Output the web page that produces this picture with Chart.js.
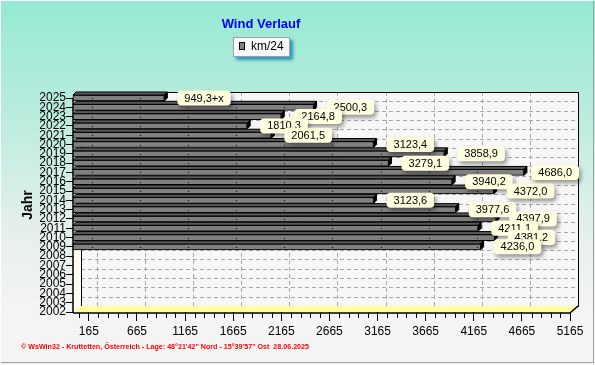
<!DOCTYPE html>
<html>
<head>
<meta charset="utf-8">
<script src="https://cdn.jsdelivr.net/npm/chart.js@4/dist/chart.umd.min.js"></script>
<style>
  html, body { margin: 0; padding: 0; background: #f4f4f4; }
  canvas { display: block; }
</style>
</head>
<body>
<canvas id="windChart" width="595" height="365"></canvas>
<script>
// Chart data
const years = ['2025', '2024', '2023', '2022', '2021', '2020', '2019', '2018', '2017', '2016', '2015', '2014',
  '2013', '2012', '2011', '2010', '2009', '2008', '2007', '2006', '2005', '2004', '2003', '2002'];
const kmValues = [949.3, 2500.3, 2164.8, 1810.3, 2061.5, 3123.4, 3858.9, 3279.1, 4686.0, 3940.2, 4372.0, 3123.6,
  3977.6, 4397.9, 4211.1, 4381.2, 4236.0, null, null, null, null, null, null, null];
const labelSuffix = { '2025': '+x' };
const xTicks = [165, 665, 1165, 1665, 2165, 2665, 3165, 3665, 4165, 4665, 5165];

const chartTitle = 'Wind Verlauf';
const seriesName = 'km/24';
const footerText = '\u00a9 WsWin32 - Kruttetten, \u00d6sterreich - Lage: 48\u00b021\'42" Nord - 15\u00b039\'57" Ost  28.06.2025';

// 3D offset of the back wall
const DX = 8, DY = -6;

function poly(c, pts, fill, stroke) {
  c.beginPath();
  c.moveTo(pts[0][0], pts[0][1]);
  for (let i = 1; i < pts.length; i++) c.lineTo(pts[i][0], pts[i][1]);
  c.closePath();
  if (fill) { c.fillStyle = fill; c.fill(); }
  if (stroke) { c.strokeStyle = stroke; c.stroke(); }
}

function line(c, x1, y1, x2, y2) {
  c.beginPath();
  c.moveTo(x1, y1);
  c.lineTo(x2, y2);
  c.stroke();
}

function fmt(v) {
  return v.toFixed(1).replace('.', ',');
}

const decoPlugin = {
  id: 'deco',
  beforeDraw(chart) {
    const c = chart.ctx, a = chart.chartArea;
    const xs = chart.scales.x, ys = chart.scales.y;
    const W = chart.width, H = chart.height;
    c.save();

    // background gradient
    const g = c.createLinearGradient(0, 0, 0, H);
    g.addColorStop(0, '#94e9d2');
    g.addColorStop(0.3, '#b9ecde');
    g.addColorStop(0.6, '#e2efeb');
    g.addColorStop(0.85, '#f4f4f4');
    c.fillStyle = g;
    c.fillRect(0, 0, W, H);

    // back wall
    c.fillStyle = '#f7f7f7';
    c.fillRect(a.left + DX, a.top + DY, a.width, a.height);

    // dashed grid on back wall
    c.lineWidth = 1;
    c.strokeStyle = '#a8a8a8';
    c.setLineDash([4, 3]);
    xTicks.forEach(v => {
      const x = Math.round(xs.getPixelForValue(v) + DX) + 0.5;
      line(c, x, a.top + DY, x, a.bottom + DY);
    });
    years.forEach((y, i) => {
      const py = Math.round(ys.getPixelForValue(i) + DY) + 0.5;
      line(c, a.left + DX, py, a.right + DX, py);
    });
    c.setLineDash([]);

    // back wall border
    c.strokeStyle = '#000';
    c.strokeRect(Math.round(a.left + DX) + 0.5, Math.round(a.top + DY) + 0.5, a.width, a.height);

    // left wall and floor
    poly(c, [[a.left, a.top], [a.left + DX, a.top + DY], [a.left + DX, a.bottom + DY], [a.left, a.bottom]], '#fffff2');
    poly(c, [[a.left, a.bottom], [a.left + DX, a.bottom + DY], [a.right + DX, a.bottom + DY], [a.right, a.bottom]], '#ffff9c');

    // front edges
    c.strokeStyle = '#000';
    c.lineWidth = 1.5;
    line(c, a.left + DX, a.top + DY, a.left, a.top);
    line(c, a.left, a.top, a.left, a.bottom + 1);
    line(c, a.left, a.bottom + 1, a.right, a.bottom + 1);
    line(c, a.right, a.bottom + 1, a.right + DX, a.bottom + DY);

    // minor ticks on x axis
    c.lineWidth = 1;
    for (let v = 65; v <= xs.max; v += 100) {
      if (xTicks.includes(v)) continue;
      const x = Math.round(xs.getPixelForValue(v)) + 0.5;
      line(c, x, a.bottom + 1, x, a.bottom + 6);
    }
    c.restore();
  },
  afterDatasetsDraw(chart) {
    const c = chart.ctx, xs = chart.scales.x;
    const meta = chart.getDatasetMeta(0);
    const d = 3;
    c.save();
    c.lineWidth = 1;
    meta.data.forEach((el, i) => {
      if (kmValues[i] == null) return;
      const x0 = el.base, x1 = el.x;
      const yt = el.y - el.height / 2, yb = el.y + el.height / 2;
      poly(c, [[x0, yt], [x0 + d, yt - d], [x1 + d, yt - d], [x1, yt]], '#5a5a5a', '#000');
      poly(c, [[x1, yt], [x1 + d, yt - d], [x1 + d, yb - d], [x1, yb]], '#000', '#000');
      // little dots along the bar
      c.fillStyle = '#000';
      xTicks.forEach(v => {
        if (v < kmValues[i]) c.fillRect(Math.round(xs.getPixelForValue(v) + 3), Math.round(el.y), 1, 1);
      });
    });
    c.restore();
  },
  afterDraw(chart) {
    const c = chart.ctx;
    const meta = chart.getDatasetMeta(0);
    c.save();

    // value labels
    c.font = '11px "Liberation Sans", Arial, sans-serif';
    c.textBaseline = 'middle';
    c.textAlign = 'center';
    meta.data.forEach((el, i) => {
      if (kmValues[i] == null) return;
      const txt = fmt(kmValues[i]) + (labelSuffix[years[i]] || '');
      const w = c.measureText(txt).width + 14, h = 15;
      let left = el.x + 13;
      if (left + w > 579) left = 579 - w;
      const top = el.y - h / 2;
      c.save();
      c.shadowColor = 'rgba(0,0,0,0.4)';
      c.shadowBlur = 4;
      c.shadowOffsetX = 2;
      c.shadowOffsetY = 3;
      c.fillStyle = '#ffffe0';
      c.beginPath();
      c.roundRect(left, top, w, h, 4);
      c.fill();
      c.restore();
      c.fillStyle = '#000';
      c.fillText(txt, left + w / 2, el.y + 0.5);
    });

    // title
    c.font = 'bold 13px "Liberation Sans", Arial, sans-serif';
    c.fillStyle = '#0000ff';
    c.fillText(chartTitle, 261, 24);

    // legend box
    c.save();
    c.shadowColor = 'rgba(30,140,180,0.9)';
    c.shadowBlur = 3;
    c.shadowOffsetX = 3;
    c.shadowOffsetY = 3;
    c.fillStyle = '#f8f8f8';
    c.fillRect(233, 37, 57, 20);
    c.restore();
    c.strokeStyle = '#a0a0a0';
    c.lineWidth = 1;
    c.strokeRect(233.5, 37.5, 56, 19);
    c.fillStyle = '#808080';
    c.fillRect(239, 42, 6, 8);
    c.strokeStyle = '#000';
    c.strokeRect(239.5, 42.5, 5, 7);
    c.fillStyle = '#000';
    c.font = '12px "Liberation Sans", Arial, sans-serif';
    c.textAlign = 'left';
    c.fillText(seriesName, 251, 47);

    // footer
    c.font = 'bold 8px "Liberation Sans", Arial, sans-serif';
    c.fillStyle = '#ff0000';
    c.fillText(footerText, 21, 347, 288);

    // outer frame
    c.strokeStyle = '#a0a0a0';
    line(c, 593.5, 0, 593.5, 363);
    line(c, 0, 362.5, 594, 362.5);
    c.strokeStyle = '#ffffff';
    line(c, 0.5, 0, 0.5, 363);
    line(c, 0, 0.5, 594, 0.5);
    c.restore();
  }
};

const ctx = document.getElementById('windChart').getContext('2d');
new Chart(ctx, {
  type: 'bar',
  data: {
    labels: years,
    datasets: [{
      label: seriesName,
      data: kmValues,
      backgroundColor: '#808080',
      borderColor: '#000000',
      borderWidth: 1,
      borderSkipped: false,
      barThickness: 6,
      clip: false
    }]
  },
  options: {
    indexAxis: 'y',
    responsive: false,
    animation: false,
    layout: { padding: { top: 98, right: 25, bottom: 23, left: 0 } },
    plugins: {
      legend: { display: false },
      title: { display: false },
      tooltip: { enabled: false }
    },
    scales: {
      x: {
        min: 0,
        max: 5165,
        afterBuildTicks: scale => { scale.ticks = xTicks.map(v => ({ value: v })); },
        afterFit: scale => { scale.height = 30; },
        grid: { drawOnChartArea: false, tickLength: 9, color: '#000' },
        border: { display: false },
        ticks: {
          color: '#000',
          font: { family: '"Liberation Sans", Arial, sans-serif', size: 12 },
          padding: 3,
          maxRotation: 0,
          autoSkip: false,
          callback: value => String(value)
        }
      },
      y: {
        offset: false,
        afterFit: scale => { scale.width = 73; },
        grid: { drawOnChartArea: false, offset: false, tickLength: 7, color: '#000' },
        border: { display: false },
        ticks: {
          color: '#000',
          font: { family: '"Liberation Sans", Arial, sans-serif', size: 12 },
          padding: 0,
          autoSkip: false
        },
        title: {
          display: true,
          text: 'Jahr',
          color: '#000',
          font: { family: '"Liberation Sans", Arial, sans-serif', size: 14, weight: 'bold' },
          padding: { top: 20, bottom: 0 }
        }
      }
    }
  },
  plugins: [decoPlugin]
});
</script>
</body>
</html>
